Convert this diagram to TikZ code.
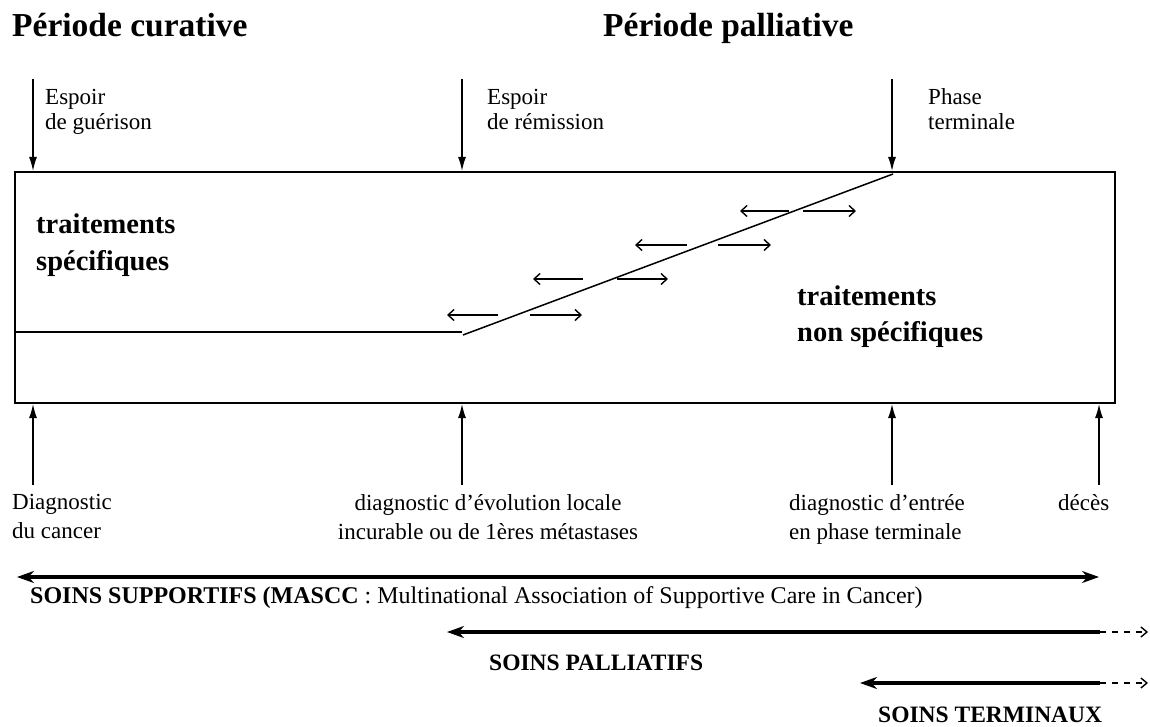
\documentclass[tikz,border=0pt]{standalone}
\usepackage{fontspec}
\setmainfont{Liberation Serif}
\usetikzlibrary{arrows.meta}
\begin{document}
\begin{tikzpicture}[x=1pt,y=-1pt,
  head/.style={font=\fontsize{33.5}{36}\selectfont\bfseries, inner sep=0pt, anchor=base west},
  toplbl/.style={font=\fontsize{23}{25}\selectfont, align=left, inner sep=0pt, anchor=base west},
  botlbl/.style={font=\fontsize{23}{29}\selectfont, align=left, inner sep=0pt, anchor=base west},
  treat/.style={font=\fontsize{28.5}{36}\selectfont\bfseries, align=left, inner sep=0pt, anchor=base west},
  soins/.style={font=\fontsize{24}{28}\selectfont, inner sep=0pt, anchor=base west},
  vline/.style={line width=1.4pt, -{Latex[length=14pt,width=8pt]}},
  small/.style={line width=1.4pt, -{Straight Barb[length=6pt,width=11pt]}},
  thick arrow/.style={line width=3.2pt},
  dashend/.style={line width=1.4pt, dash pattern=on 6pt off 6pt, -{Straight Barb[length=6pt,width=10pt]}},
]
\useasboundingbox (0,0) rectangle (1150,727);

% headings
\node[head] (hcur) at (12,37) {Période curative};
\node[head] (hpal) at (603,37) {Période palliative};

% main box
\coordinate (bnw) at (15,172);
\coordinate (bse) at (1115,403);
\draw[line width=2.2pt] (bnw) rectangle (bse);

% top arrows and labels
\foreach \n/\x in {a/33, b/462, c/892} {
  \coordinate (top\n) at (\x,79);
  \coordinate (topend\n) at (\x,171);
  \draw[vline] (top\n) -- (topend\n);
}
\node[toplbl] (espg) at (45,130) {Espoir\\de guérison};
\node[toplbl] (espr) at (487,130) {Espoir\\de rémission};
\node[toplbl] (phase) at (928,130) {Phase\\terminale};

% inner lines
\coordinate (hl0) at (15,332);
\coordinate (hl1) at (462,332);
\draw[line width=1.8pt] (hl0) -- (hl1);
\coordinate (dg0) at (463,335);
\coordinate (dg1) at (893,174);
\draw[line width=1.5pt] (dg0) -- (dg1);

% small arrows
\foreach \i/\y/\la/\lb/\ra/\rb in {1/315/498/447/530/582, 2/279/583/533/617/668, 3/245/687/635/718/771, 4/211/789/740/803/856} {
  \coordinate (la\i) at (\la,\y);
  \coordinate (lb\i) at (\lb,\y);
  \coordinate (ra\i) at (\ra,\y);
  \coordinate (rb\i) at (\rb,\y);
  \draw[small] (la\i) -- (lb\i);
  \draw[small] (ra\i) -- (rb\i);
}

% treatments
\node[treat] (tspec) at (36,270) {traitements\\spécifiques};
\node[treat] (tnon) at (797,341) {traitements\\non spécifiques};

% bottom arrows
\foreach \n/\x in {a/33, b/462, c/892, d/1099} {
  \coordinate (bot\n) at (\x,485);
  \coordinate (botend\n) at (\x,404);
  \draw[vline] (bot\n) -- (botend\n);
}
\node[botlbl] (dcan) at (12,538) {Diagnostic\\du cancer};
\node[botlbl, align=center, anchor=base] (devo) at (488,539) {diagnostic d'évolution locale\\incurable ou de 1ères métastases};
\node[botlbl] (dent) at (789,539) {diagnostic d'entrée\\en phase terminale};
\node[botlbl] (dec) at (1058,510) {décès};

% soins supportifs
\coordinate (ss0) at (17,577);
\coordinate (ss1) at (1099,577);
\draw[thick arrow, {Stealth[length=17pt,width=12pt]}-{Stealth[length=17pt,width=12pt]}] (ss0) -- (ss1);
\node[soins] (tss) at (30,603) {\bfseries SOINS SUPPORTIFS (MASCC\mdseries\ : Multinational Association of Supportive Care in Cancer)};

% soins palliatifs
\coordinate (sp0) at (447,632);
\coordinate (sp1) at (1100,632);
\coordinate (sp2) at (1148,632);
\draw[thick arrow, {Stealth[length=17pt,width=12pt]}-] (sp0) -- (sp1);
\draw[dashend] (sp1) -- (sp2);
\node[soins, font=\fontsize{23.5}{28}\selectfont\bfseries] (tsp) at (489,670) {SOINS PALLIATIFS};

% soins terminaux
\coordinate (st0) at (860,683);
\coordinate (st1) at (1100,683);
\coordinate (st2) at (1148,683);
\draw[thick arrow, {Stealth[length=17pt,width=12pt]}-] (st0) -- (st1);
\draw[dashend] (st1) -- (st2);
\node[soins, font=\fontsize{23.5}{28}\selectfont\bfseries] (tst) at (878,722) {SOINS TERMINAUX};
\end{tikzpicture}
\end{document}
